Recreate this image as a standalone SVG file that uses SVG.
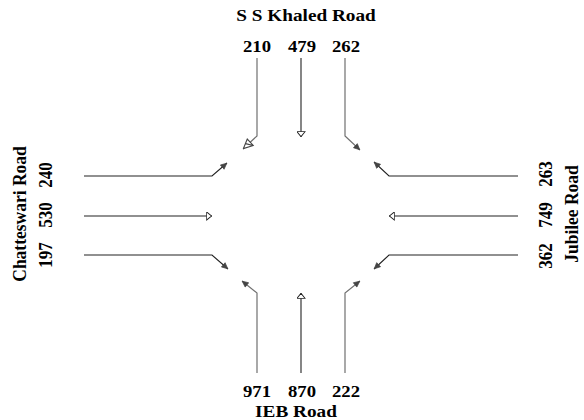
<svg xmlns="http://www.w3.org/2000/svg" width="584" height="420" viewBox="0 0 584 420">
<defs>
<style>
.t{font-family:"Liberation Serif","Times New Roman",serif;font-weight:bold;fill:#000;text-anchor:middle}
.road{font-size:17.5px}
.num{font-size:17px}
.g{fill:none;stroke:#707070;stroke-width:1.2}
.k{fill:none;stroke:#222;stroke-width:1.1}
</style>
<marker id="tri" viewBox="0 0 10 10" refX="10" refY="5" markerWidth="6" markerHeight="9" markerUnits="userSpaceOnUse" orient="auto" preserveAspectRatio="none">
<path d="M1,0.5 L9.5,5 L1,9.5 Z" fill="#fff" stroke="#222" stroke-width="1.2"/>
</marker>
<marker id="big" viewBox="0 0 10 10" refX="10" refY="5" markerWidth="11" markerHeight="11" markerUnits="userSpaceOnUse" orient="auto">
<path d="M1,1 L9.5,5 L1,9 Z M1,1 L5,7" fill="#fff" stroke="#444" stroke-width="1"/>
</marker>
<marker id="sm" viewBox="0 0 10 10" refX="10" refY="5" markerWidth="7" markerHeight="7" markerUnits="userSpaceOnUse" orient="auto">
<path d="M1,1 L9.5,5 L1,9 Z" fill="#444" stroke="#444" stroke-width="1"/>
</marker>
</defs>

<g id="connectors">
<polyline class="g" points="257,58 257,136 243,149" marker-end="url(#big)"/>
<polyline class="k" points="301,58 301,137" marker-end="url(#tri)"/>
<polyline class="g" points="345,58 345,136 360,150" marker-end="url(#sm)"/>

<polyline class="k" points="84,176 212,176 227,163" marker-end="url(#sm)"/>
<polyline class="k" points="84,216 212,216" marker-end="url(#tri)"/>
<polyline class="k" points="84,255 212,255 228,269" marker-end="url(#sm)"/>

<polyline class="k" points="518,176 389,176 374,162" marker-end="url(#sm)"/>
<polyline class="k" points="518,216 389,216" marker-end="url(#tri)"/>
<polyline class="k" points="518,255 389,255 374,269" marker-end="url(#sm)"/>

<polyline class="g" points="257,373 257,293 242,281" marker-end="url(#sm)"/>
<polyline class="k" points="301,373 301,293" marker-end="url(#tri)"/>
<polyline class="g" points="345,373 345,293 360,281" marker-end="url(#sm)"/>
</g>

<g id="north">
<text class="t road" transform="translate(306,21) scale(1.1,1)">S S Khaled Road</text>
<text class="t num" transform="translate(257,52) scale(1.1,1)">210</text>
<text class="t num" transform="translate(302,52) scale(1.1,1)">479</text>
<text class="t num" transform="translate(346,52) scale(1.1,1)">262</text>
</g>

<g id="south">
<text class="t num" transform="translate(257,397) scale(1.1,1)">971</text>
<text class="t num" transform="translate(302,397) scale(1.1,1)">870</text>
<text class="t num" transform="translate(346,397) scale(1.1,1)">222</text>
<text class="t road" transform="translate(296,417) scale(1.1,1)">IEB Road</text>
</g>

<g id="west">
<text class="t road" transform="translate(26,214) scale(1.1,1) rotate(-90)">Chatteswari Road</text>
<text class="t num" transform="translate(52,175) scale(1.1,1) rotate(-90)">240</text>
<text class="t num" transform="translate(52,215) scale(1.1,1) rotate(-90)">530</text>
<text class="t num" transform="translate(52,255) scale(1.1,1) rotate(-90)">197</text>
</g>

<g id="east">
<text class="t num" transform="translate(552,174) scale(1.1,1) rotate(-90)">263</text>
<text class="t num" transform="translate(552,215) scale(1.1,1) rotate(-90)">749</text>
<text class="t num" transform="translate(552,256) scale(1.1,1) rotate(-90)">362</text>
<text class="t road" transform="translate(578,214) scale(1.1,1) rotate(-90)">Jubilee Road</text>
</g>
</svg>
